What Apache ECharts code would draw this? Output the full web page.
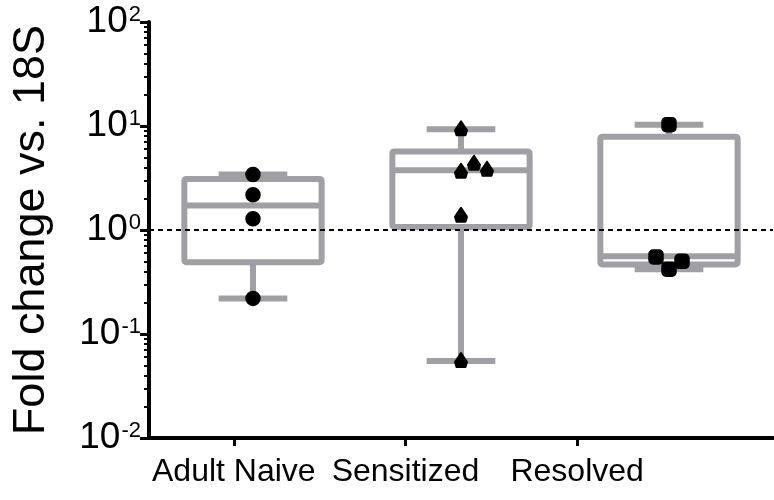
<!DOCTYPE html>
<html>
<head>
<meta charset="utf-8">
<script src="https://cdn.jsdelivr.net/npm/echarts@6/dist/echarts.min.js"></script>
<style>
  html, body { margin: 0; padding: 0; background: #fff; }
  #main { width: 774px; height: 500px; }
</style>
</head>
<body>
<div id="main"></div>
<script>
const categories = ['Adult Naive', 'Sensitized', 'Resolved'];
// [min, Q1, median, Q3, max]
const boxStats = [
    [0.22, 0.49, 1.72, 3.1, 3.42],
    [0.055, 1.07, 3.75, 5.7, 9.3],
    [0.42, 0.465, 0.56, 7.9, 10.3]
];
const naivePoints = [3.42, 2.18, 1.28, 0.22];
const sensitizedPoints = [9.3, 4.34, 3.8, 3.63, 1.37, 0.055];
const resolvedPoints = [10.3, 0.55, 0.5, 0.42];
const yTicks = [0.01, 0.1, 1, 10, 100];
const refLine = 1;

const groups = [naivePoints, sensitizedPoints, resolvedPoints];
const FONT = '"Liberation Sans", Arial, Helvetica, sans-serif';
const boxColor = '#a0a0a4';

// minor ticks 2..9 inside each decade
const minorTicks = [];
for (let d = 0; d < yTicks.length - 1; d++) {
    for (let k = 2; k <= 9; k++) minorTicks.push(+(yTicks[d] * k).toPrecision(3));
}

const boxData = boxStats.map((s, i) => [i].concat(s));
const pointData = [];
groups.forEach((vals, g) => vals.forEach((v, k) => pointData.push([g, v, k])));

function renderBox(params, api) {
    const i = api.value(0);
    const x = api.coord([i, 1])[0];
    const band = api.coord([1, 1])[0] - api.coord([0, 1])[0];
    const halfW = band * 0.33;
    const capHalf = halfW / 2;
    const y = [1, 2, 3, 4, 5].map(d => api.coord([i, api.value(d)])[1]);
    const style = { stroke: boxColor, lineWidth: 6, fill: null, lineJoin: 'round' };
    return {
        type: 'group',
        children: [
            { type: 'line', shape: { x1: x, y1: y[4], x2: x, y2: y[3] }, style },
            { type: 'line', shape: { x1: x, y1: y[1], x2: x, y2: y[0] }, style },
            { type: 'line', shape: { x1: x - capHalf, y1: y[4], x2: x + capHalf, y2: y[4] }, style },
            { type: 'line', shape: { x1: x - capHalf, y1: y[0], x2: x + capHalf, y2: y[0] }, style },
            { type: 'rect', shape: { x: x - halfW, y: y[3], width: halfW * 2, height: y[1] - y[3], r: 2 }, style },
            { type: 'line', shape: { x1: x - halfW, y1: y[2], x2: x + halfW, y2: y[2] }, style }
        ]
    };
}

// simple swarm: place points bottom-up, nudging sideways on overlap
function swarmOffsets(api, g) {
    const vals = groups[g];
    const step = 13, minDist = 13.5;
    const order = vals.map((v, k) => k).sort((a, b) => vals[a] - vals[b]);
    const placed = [];
    const offs = [];
    order.forEach(k => {
        const py = api.coord([g, vals[k]])[1];
        const cands = [0, step, -step, 2 * step, -2 * step];
        let dx = 0;
        for (const c of cands) {
            if (placed.every(p => Math.hypot(p[0] - c, p[1] - py) >= minDist)) { dx = c; break; }
        }
        placed.push([dx, py]);
        offs[k] = dx;
    });
    return offs;
}

function renderPoint(params, api) {
    const g = api.value(0);
    const k = api.value(2);
    const p = api.coord([g, api.value(1)]);
    const x = p[0] + swarmOffsets(api, g)[k];
    const y = p[1];
    const style = { fill: '#000', stroke: '#000', lineWidth: 1.5, lineJoin: 'round' };
    if (g === 0) {
        return { type: 'circle', shape: { cx: x, cy: y, r: 7 }, style };
    }
    if (g === 1) {
        return {
            type: 'polygon',
            shape: { points: [[x, y - 8], [x + 6, y + 1], [x + 4.5, y + 6], [x - 4.5, y + 6], [x - 6, y + 1]] },
            style: Object.assign({}, style, { lineWidth: 2 })
        };
    }
    return { type: 'rect', shape: { x: x - 7, y: y - 7, width: 14, height: 14, r: 4 }, style };
}

const chart = echarts.init(document.getElementById('main'));
chart.setOption({
    backgroundColor: '#fff',
    animation: false,
    grid: [
        { left: 149, right: 1, top: 22, bottom: 62 },
        // the category labels sit on a tighter spacing than the boxes
        { left: 148, right: 111, top: 22, bottom: 62 }
    ],
    xAxis: [
        {
            type: 'category',
            gridIndex: 0,
            data: categories,
            axisLine: { show: true, lineStyle: { color: '#000', width: 4 } },
            axisTick: { show: false },
            axisLabel: { show: false },
            splitLine: { show: false }
        },
        {
            type: 'category',
            gridIndex: 1,
            data: categories,
            axisLine: { show: false },
            axisTick: { show: true, alignWithLabel: true, length: 8, lineStyle: { color: '#000', width: 3 } },
            axisLabel: { color: '#000', fontSize: 32, fontFamily: FONT, margin: 18, interval: 0 },
            splitLine: { show: false }
        }
    ],
    yAxis: [
        {
            type: 'log',
            gridIndex: 0,
            logBase: 10,
            min: 0.01,
            max: 100,
            name: 'Fold change vs. 18S',
            nameLocation: 'middle',
            nameGap: 95,
            nameTextStyle: { color: '#000', fontSize: 45, fontFamily: FONT },
            axisLine: { show: true, lineStyle: { color: '#000', width: 4 } },
            axisTick: { show: true, length: 9, lineStyle: { color: '#000', width: 3 }, customValues: yTicks },
            axisLabel: {
                customValues: yTicks,
                margin: 8,
                formatter: v => '{b|10}{s|' + Math.round(Math.log10(v)) + '}',
                rich: {
                    b: { fontSize: 37, fontFamily: FONT, color: '#000', lineHeight: 36, verticalAlign: 'bottom' },
                    s: { fontSize: 22, fontFamily: FONT, color: '#000', lineHeight: 36, verticalAlign: 'top', padding: [0, 0, 13, 1] }
                }
            },
            splitLine: { show: false }
        },
        {
            type: 'log',
            gridIndex: 0,
            logBase: 10,
            min: 0.01,
            max: 100,
            position: 'left',
            axisLine: { show: false },
            axisTick: { show: true, length: 5, lineStyle: { color: '#000', width: 2 }, customValues: minorTicks },
            axisLabel: { show: false },
            splitLine: { show: false }
        },
        {
            type: 'value',
            gridIndex: 1,
            show: false
        }
    ],
    series: [
        {
            type: 'custom',
            name: 'box',
            renderItem: renderBox,
            encode: { x: 0, y: [1, 2, 3, 4, 5] },
            data: boxData,
            z: 2,
            markLine: {
                silent: true,
                symbol: 'none',
                label: { show: false },
                lineStyle: { color: '#000', width: 2, type: [5, 4] },
                data: [{ yAxis: refLine }]
            }
        },
        {
            type: 'custom',
            name: 'points',
            renderItem: renderPoint,
            encode: { x: 0, y: 1 },
            data: pointData,
            z: 5
        }
    ]
});
</script>
</body>
</html>
